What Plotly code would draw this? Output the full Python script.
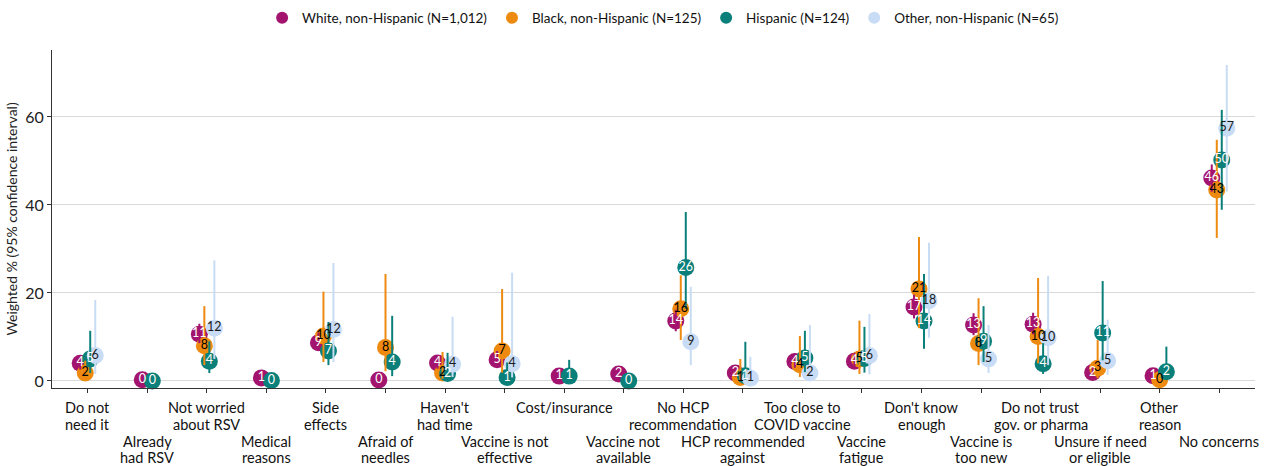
import plotly.graph_objects as go

# Reasons for not getting the RSV vaccine, by race/ethnicity
categories = [
    "Do not<br>need it", "Already<br>had RSV", "Not worried<br>about RSV", "Medical<br>reasons",
    "Side<br>effects", "Afraid of<br>needles", "Haven't<br>had time", "Vaccine is not<br>effective",
    "Cost/insurance", "Vaccine not<br>available", "No HCP<br>recommendation", "HCP recommended<br>against",
    "Too close to<br>COVID vaccine", "Vaccine<br>fatigue", "Don't know<br>enough", "Vaccine is<br>too new",
    "Do not trust<br>gov. or pharma", "Unsure if need<br>or eligible", "Other<br>reason", "No concerns",
]

group_names = [
    "White, non-Hispanic (N=1,012)",
    "Black, non-Hispanic (N=125)",
    "Hispanic (N=124)",
    "Other, non-Hispanic (N=65)",
]

# Weighted percentages (None = not reported)
white_pct = [4.0, 0.3, 10.6, 0.7, 8.7, 0.2, 4.1, 4.8, 1.1, 1.6, 13.6, 1.8, 4.4, 4.5, 16.8, 12.7, 12.9, 1.9, 1.2, 46.1]
black_pct = [1.8, None, 8.0, None, 10.2, 7.6, 1.8, 6.8, None, None, 16.4, 0.8, 3.7, 5.0, 20.9, 8.5, 10.1, 2.9, 0.3, 43.4]
hisp_pct = [5.0, 0.0, 4.5, 0.1, 6.8, 4.3, 1.7, 0.8, 1.1, 0.0, 25.8, 1.2, 5.2, 5.1, 13.6, 9.0, 3.9, 10.9, 2.1, 50.2]
other_pct = [5.8, None, 12.0, None, 11.7, None, 3.8, 3.9, None, None, 8.9, 0.6, 1.8, 5.8, 18.2, 5.0, 9.8, 4.6, None, 57.4]

# 95% confidence interval bounds
white_lo = [2.6, 0.0, 8.6, 0.2, 6.8, 0.0, 2.8, 3.3, 0.5, 0.9, 11.3, 1.0, 3.0, 3.1, 14.2, 10.4, 10.6, 1.1, 0.6, 43.0]
white_hi = [5.8, 1.0, 13.0, 1.4, 11.0, 0.6, 5.9, 6.8, 2.0, 2.6, 16.2, 3.0, 6.2, 6.4, 19.6, 15.4, 15.5, 3.1, 2.1, 49.2]
black_lo = [0.4, None, 3.6, None, 4.3, 2.2, 0.5, 1.9, None, None, 9.3, 0.1, 0.9, 1.6, 12.0, 3.6, 4.0, 0.6, 0.0, 32.5]
black_hi = [4.6, None, 17.0, None, 20.3, 24.3, 6.6, 20.9, None, None, 24.0, 5.0, 10.2, 13.7, 32.7, 18.8, 23.4, 9.3, 1.8, 54.8]
hisp_lo = [1.8, 0.0, 1.8, 0.0, 3.6, 1.1, 0.5, 0.1, 0.2, 0.0, 16.4, 0.3, 2.0, 1.9, 7.3, 4.3, 1.6, 4.7, 0.5, 38.9]
hisp_hi = [11.4, 0.0, 9.0, 0.4, 13.4, 14.8, 6.4, 4.2, 4.8, 0.0, 38.4, 8.9, 11.4, 12.3, 24.3, 17.0, 8.6, 22.7, 7.8, 61.6]
other_lo = [1.6, None, 5.0, None, 4.3, None, 0.9, 0.8, None, None, 3.6, 0.1, 0.3, 1.5, 9.8, 1.8, 3.6, 1.4, None, 43.0]
other_hi = [18.4, None, 27.4, None, 26.8, None, 14.6, 24.6, None, None, 21.4, 5.5, 12.7, 15.2, 31.4, 12.7, 23.9, 13.9, None, 71.8]

y_ticks = [0, 20, 40, 60]

series = [
    (white_pct, white_lo, white_hi, "#A3146F", "white"),
    (black_pct, black_lo, black_hi, "#EE8A10", "black"),
    (hisp_pct, hisp_lo, hisp_hi, "#0B7F79", "white"),
    (other_pct, other_lo, other_hi, "#C8DCF5", "#1a1a1a"),
]

FONT = "Lato"
DODGE = 0.336  # total dodge width in category units

W, H = 1270, 466
M_L, M_R, M_T, M_B = 52, 15, 50, 78
PLOT_H = H - M_T - M_B

# Dodged x positions: only groups with a value share the slot
n_cat = len(categories)
xpos = [[None] * n_cat for _ in series]
for i in range(n_cat):
    present = [g for g, s in enumerate(series) if s[0][i] is not None]
    k = len(present)
    for rank, g in enumerate(present):
        xpos[g][i] = i + (rank - (k - 1) / 2) * (DODGE / k)

fig = go.Figure()

# Points
for g, (vals, lo, hi, color, tcol) in enumerate(series):
    xs = [xpos[g][i] for i in range(n_cat) if vals[i] is not None]
    ys = [vals[i] for i in range(n_cat) if vals[i] is not None]
    fig.add_trace(go.Scatter(
        x=xs, y=ys, mode="markers", name=group_names[g],
        marker=dict(size=17, color=color, line=dict(width=0)),
        cliponaxis=False,
    ))

# Confidence intervals drawn over the points
for g, (vals, lo, hi, color, tcol) in enumerate(series):
    idx = [i for i in range(n_cat) if vals[i] is not None]
    fig.add_trace(go.Scatter(
        x=[xpos[g][i] for i in idx], y=[vals[i] for i in idx], mode="markers",
        marker=dict(size=1, opacity=0), showlegend=False, hoverinfo="skip",
        error_y=dict(type="data", symmetric=False,
                     array=[hi[i] - vals[i] for i in idx],
                     arrayminus=[vals[i] - lo[i] for i in idx],
                     color=color, thickness=2, width=0),
    ))

# Value labels on top
for g, (vals, lo, hi, color, tcol) in enumerate(series):
    idx = [i for i in range(n_cat) if vals[i] is not None]
    fig.add_trace(go.Scatter(
        x=[xpos[g][i] for i in idx], y=[vals[i] for i in idx], mode="text",
        text=[f"{vals[i]:.0f}" for i in idx], textposition="middle center",
        textfont=dict(family=FONT, size=12.5, color=tcol),
        showlegend=False, hoverinfo="skip", cliponaxis=False,
    ))

# Category labels, staggered over two rows; one annotation per text line
row_lines_px = [(407, 424), (441, 457)]
for i, lab in enumerate(categories):
    lines = lab.split("<br>")
    ys_px = row_lines_px[i % 2]
    for j, line in enumerate(lines):
        fig.add_annotation(
            x=i, xref="x", y=(H - M_B - ys_px[j]) / PLOT_H, yref="paper",
            text=line, showarrow=False, yanchor="middle", xanchor="center",
            font=dict(family=FONT, size=14.5, color="#111111"),
        )

fig.update_layout(
    width=W, height=H,
    margin=dict(l=M_L, r=M_R, t=M_T, b=M_B),
    plot_bgcolor="white", paper_bgcolor="white",
    font=dict(family=FONT, color="#222222"),
    legend=dict(orientation="h", x=0.508, xanchor="center",
                yref="container", y=1 - 18 / H, yanchor="middle",
                font=dict(family=FONT, size=13.5, color="#111111"),
                itemsizing="constant", tracegroupgap=0, itemwidth=30),
    showlegend=True,
)
fig.update_xaxes(
    range=[-0.6, n_cat - 0.4], tickvals=list(range(n_cat)), showticklabels=False,
    ticks="outside", ticklen=4, tickcolor="#333333", showline=True, linecolor="#333333",
    linewidth=1, showgrid=False, zeroline=False,
)
fig.update_yaxes(
    range=[-1.6, 75.2], tickvals=y_ticks, ticks="outside", ticklen=4, tickcolor="#333333",
    showline=True, linecolor="#333333", linewidth=1,
    showgrid=True, gridcolor="#D9D9D9", gridwidth=1, zeroline=False,
    tickfont=dict(family=FONT, size=16, color="#222222"),
    title=dict(text="Weighted % (95% confidence interval)", standoff=4,
               font=dict(family=FONT, size=14, color="#222222")),
)

fig.write_html("out.html")
